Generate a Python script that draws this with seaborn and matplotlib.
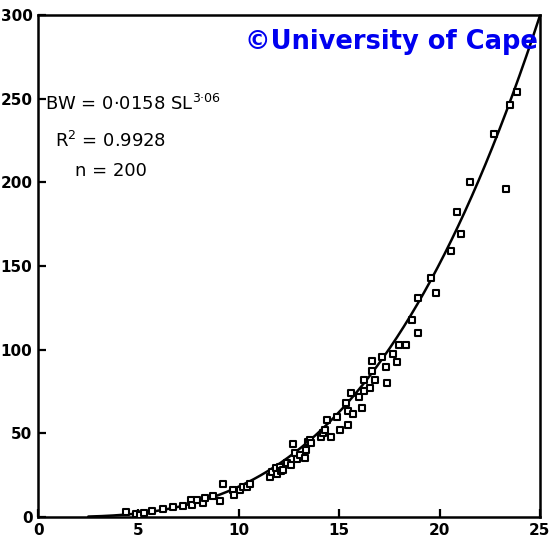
import numpy as np
import pandas as pd
import seaborn as sns
import matplotlib.pyplot as plt

# standard length (SL) vs body weight (BW)
sl = [4.4, 4.9, 5.1, 5.3, 5.7, 6.2, 6.7, 7.2, 7.6, 7.65, 7.9, 8.2, 8.3, 8.7, 9.05, 9.2,
      9.7, 9.75, 10.05, 10.2, 10.4, 10.55, 11.55, 11.65, 11.85, 11.9, 12.05, 12.1, 12.2,
      12.4, 12.6, 12.7, 12.8, 12.9, 13.05, 13.3, 13.35, 13.45, 13.55, 13.6, 14.1, 14.2,
      14.3, 14.4, 14.6, 14.9, 15.05, 15.35, 15.45, 15.45, 15.6, 15.7, 16.0, 16.15, 16.25,
      16.25, 16.55, 16.65, 16.65, 16.8, 17.15, 17.35, 17.4, 17.7, 17.9, 18.0, 18.35,
      18.65, 18.95, 18.95, 19.6, 19.85, 20.55, 20.85, 21.05, 21.5, 22.7, 23.3, 23.5, 23.85]
bw = [3.2, 2.0, 1.2, 2.4, 3.8, 4.6, 5.8, 6.6, 10.2, 7.2, 10.2, 8.2, 11.2, 12.6, 9.6, 20,
      16.1, 13.1, 16.1, 17.7, 18.1, 19.5, 23.8, 27, 29, 25.7, 30, 27.7, 28,
      32, 31, 43.6, 38, 34.5, 37, 35.5, 40, 45, 46, 44.4, 47.6, 50,
      52, 58, 48, 59.6, 52, 68, 63.4, 55, 73.9, 61.4, 71.9, 65, 81.9,
      75.3, 76.9, 93.4, 87.5, 81.9, 95.8, 89.5, 80.3, 97.4, 92.8, 102.8, 102.8,
      118, 109.8, 130.7, 142.7, 134, 159, 182, 169, 200, 229, 196, 246, 254]

# fitted relation printed on the chart
a, b = 0.0158, 3.06
fit_x = np.linspace(2.5, 25, 200)
fit = pd.DataFrame({'SL': fit_x, 'BW': a * fit_x ** b})
pts = pd.DataFrame({'SL': sl, 'BW': bw})

sns.set_style('ticks')
plt.rcParams['font.family'] = ['DejaVu Sans']
plt.rcParams['text.color'] = 'black'

fig = plt.figure(figsize=(5.52, 5.55), dpi=100)
ax = fig.add_axes([0.069, 0.0685, 0.909, 0.9045])

sns.lineplot(data=fit, x='SL', y='BW', color='black', linewidth=1.8, ax=ax)
sns.scatterplot(data=pts, x='SL', y='BW', marker='s', s=24, facecolor='white',
                edgecolor='black', linewidth=1.5, ax=ax, zorder=3)

ax.set_xlim(0, 25)
ax.set_ylim(0, 300)
ax.set_xticks(range(0, 26, 5))
ax.set_yticks(range(0, 301, 50))
ax.set_xlabel('')
ax.set_ylabel('')
for s in ax.spines.values():
    s.set_visible(True)
    s.set_linewidth(1.8)
    s.set_color('black')
ax.tick_params(direction='in', length=6, width=1.6, labelsize=11, pad=4, colors='black')
for lab in ax.get_xticklabels() + ax.get_yticklabels():
    lab.set_fontweight('semibold')

ax.text(0.35, 243, r'BW = 0·0158 SL$^{\mathregular{3·06}}$', fontsize=13,
        va='baseline', color='black')
ax.text(0.85, 221, r'R$^{\mathregular{2}}$ = 0.9928', fontsize=13,
        va='baseline', color='black')
ax.text(1.85, 204, 'n = 200', fontsize=13, va='baseline', color='black')

fig.text(0.444, 0.924, '©University of Cape', color='#0000f0', fontsize=18.5,
         fontweight='bold', va='center')

plt.savefig('out.png', dpi=100)
